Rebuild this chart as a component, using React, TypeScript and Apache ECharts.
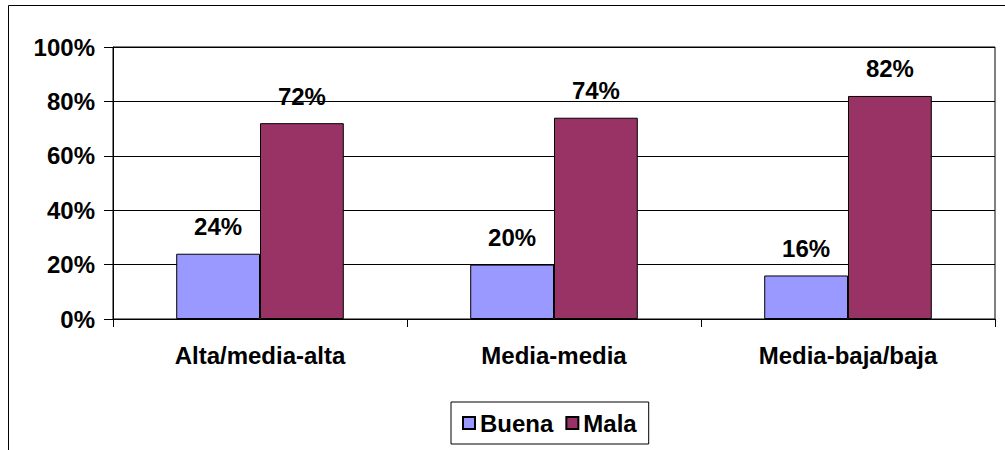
import React, { useEffect, useRef } from "react";
import * as echarts from "echarts";

const categories = ["Alta/media-alta", "Media-media", "Media-baja/baja"];
const buena = [24, 20, 16];
const mala = [72, 74, 82];
const seriesNames = ["Buena", "Mala"];

const FONT = "'Liberation Sans', Arial, Helvetica, sans-serif";
const FS = 24;

export default function App() {
  const ref = useRef<HTMLDivElement>(null);
  useEffect(() => {
    if (!ref.current) return;
    const chart = echarts.init(ref.current, undefined, { renderer: "svg" });
    const labelStyle = {
      show: true,
      position: "top" as const,
      distance: 15,
      color: "#000",
      fontFamily: FONT,
      fontWeight: "bold" as const,
      fontSize: FS,
      formatter: "{c}%",
    };
    chart.setOption({
      animation: false,
      backgroundColor: "#fff",
      textStyle: { fontFamily: FONT },
      graphic: [
        {
          type: "rect",
          shape: { x: 8.5, y: 5.5, width: 1100, height: 500 },
          style: { fill: "none", stroke: "#000", lineWidth: 1 },
          silent: true,
        },
      ],
      grid: {
        left: 113,
        top: 47,
        right: 10,
        bottom: 131,
        show: true,
        borderColor: "#000",
        borderWidth: 1,
        backgroundColor: "transparent",
      },
      legend: {
        data: seriesNames,
        left: 451,
        top: 402,
        orient: "horizontal",
        icon: "rect",
        itemWidth: 12,
        itemHeight: 12,
        itemGap: 12,
        padding: [9, 12, 9, 11],
        borderColor: "#000",
        borderWidth: 1,
        textStyle: {
          color: "#000",
          fontFamily: FONT,
          fontWeight: "bold",
          fontSize: FS,
        },
      },
      xAxis: {
        type: "category",
        data: categories,
        axisLine: { show: true, lineStyle: { color: "#000", width: 1 } },
        axisTick: { show: true, length: 8, alignWithLabel: false, lineStyle: { color: "#000" } },
        axisLabel: {
          color: "#000",
          fontFamily: FONT,
          fontWeight: "bold",
          fontSize: FS,
          margin: 24,
        },
        splitLine: { show: false },
      },
      yAxis: {
        type: "value",
        min: 0,
        max: 100,
        interval: 20,
        axisLine: { show: true, lineStyle: { color: "#000", width: 1 } },
        axisTick: { show: true, length: 9, lineStyle: { color: "#000" } },
        axisLabel: {
          color: "#000",
          fontFamily: FONT,
          fontWeight: "bold",
          fontSize: FS,
          margin: 18,
          formatter: "{value}%",
        },
        splitLine: { show: true, lineStyle: { color: "#000", width: 1 } },
      },
      series: [
        {
          name: seriesNames[0],
          type: "bar",
          data: buena,
          barGap: "0%",
          barCategoryGap: "43%",
          itemStyle: { color: "#9999FF", borderColor: "#000", borderWidth: 1 },
          label: labelStyle,
        },
        {
          name: seriesNames[1],
          type: "bar",
          data: mala,
          barGap: "0%",
          barCategoryGap: "43%",
          itemStyle: { color: "#993366", borderColor: "#000", borderWidth: 1 },
          label: labelStyle,
        },
      ],
    });
    return () => chart.dispose();
  }, []);
  return (
    <div
      ref={ref}
      style={{ position: "fixed", left: 0, top: 0, width: 1005, height: 450 }}
    />
  );
}
